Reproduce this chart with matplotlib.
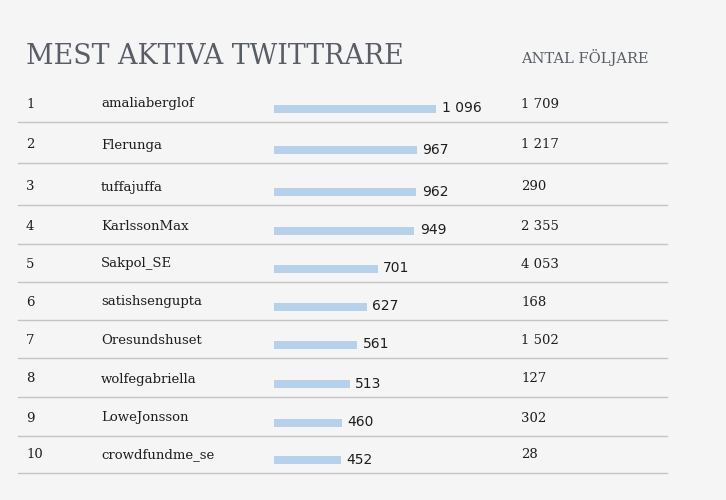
import matplotlib.pyplot as plt

ranks = [1, 2, 3, 4, 5, 6, 7, 8, 9, 10]
users = ["amaliaberglof", "Flerunga", "tuffajuffa", "KarlssonMax", "Sakpol_SE",
         "satishsengupta", "Oresundshuset", "wolfegabriella", "LoweJonsson", "crowdfundme_se"]
tweets = [1096, 967, 962, 949, 701, 627, 561, 513, 460, 452]
followers = [1709, 1217, 290, 2355, 4053, 168, 1502, 127, 302, 28]

bg = "#f5f5f5"
bar_color = "#b8d1ea"
text_color = "#1e1e1e"
title_color = "#585d66"
line_color = "#c4c4c4"

# row separator positions (px from top), as laid out in the original
sep_lines = [122, 163, 205, 244, 282, 320, 358, 397, 436, 473]


def fmt(n):
    return "{:,}".format(n).replace(",", " ")


W, H = 726, 500
fig = plt.figure(figsize=(W / 100, H / 100), dpi=100, facecolor=bg)

# main axes in pixel coords for the table layout
ax = fig.add_axes([0, 0, 1, 1])
ax.set_xlim(0, W)
ax.set_ylim(H, 0)
ax.axis("off")

ax.text(26, 57, "MEST AKTIVA TWITTRARE", fontsize=19.4, family="DejaVu Serif",
        color=title_color, va="center", ha="left")
ax.text(521, 57, "ANTAL FÖLJARE", fontsize=10.5, family="DejaVu Serif",
        color=title_color, va="center", ha="left")

ycs = [s - 18 for s in sep_lines]

for i, y in enumerate(ycs):
    ax.text(26, y, str(ranks[i]), fontsize=9.5, family="DejaVu Serif", color=text_color, va="center")
    ax.text(101, y, users[i], fontsize=9.5, family="DejaVu Serif", color=text_color, va="center")
    ax.text(521, y, fmt(followers[i]), fontsize=9.5, family="DejaVu Serif", color=text_color, va="center")
    ax.plot([18, 667], [sep_lines[i], sep_lines[i]], color=line_color, lw=1)

# bar axes: starts at x=274 px
px_per_unit = 162 / 1096
left = 274
bax = fig.add_axes([left / W, 0, (W - left) / W, 1])
bax.set_xlim(0, (W - left) / px_per_unit)
bax.set_ylim(H, 0)
bax.axis("off")
bar_y = [s - 13.5 for s in sep_lines]
bax.barh(bar_y, tweets, height=8, color=bar_color, left=0)
for v, y in zip(tweets, bar_y):
    bax.annotate(fmt(v), (v, y), xytext=(4, 0), textcoords="offset points",
                 fontsize=10, family="DejaVu Sans", color=text_color, va="center", ha="left")

fig.savefig("out.png", dpi=100, facecolor=bg)
